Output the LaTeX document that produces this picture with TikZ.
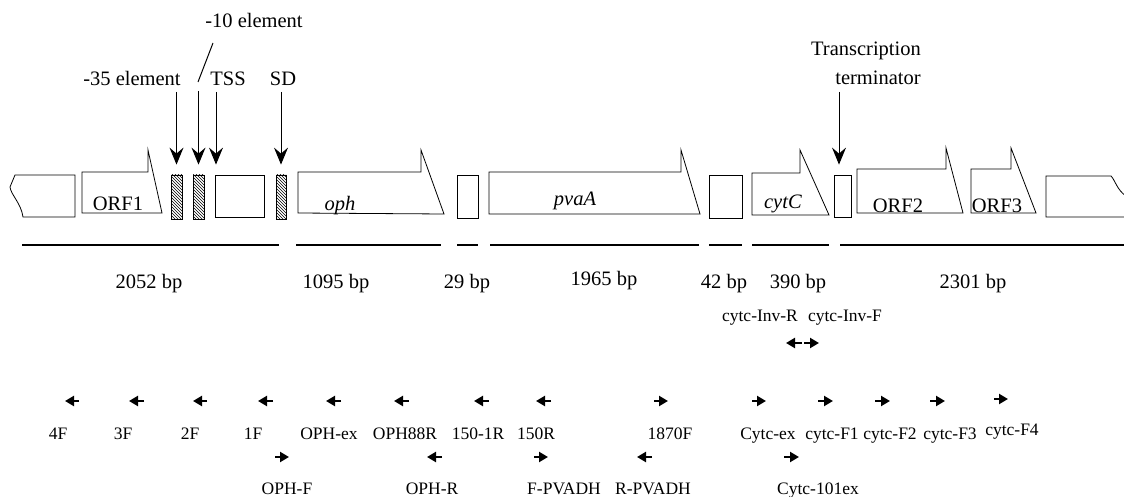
\documentclass[tikz,border=0pt]{standalone}
\usepackage{fontspec}
\setmainfont{Liberation Serif}
\usetikzlibrary{arrows.meta,patterns}
\begin{document}
\begin{tikzpicture}[x=1pt,y=-1pt,
  box/.style={draw,line width=0.8pt},
  rbox/.style={draw,line width=0.8pt,inner sep=0pt},
  hatch/.style={draw,line width=0.8pt,pattern=north west lines,inner sep=0pt,minimum width=11pt,minimum height=44pt},
  bar/.style={line width=2.6pt},
  bigarrow/.style={line width=1pt,-{Stealth[length=17pt,width=14pt,inset=6pt]}},
  primer/.style={line width=2.2pt,-{Triangle[length=9pt,width=10pt]}},
  lab/.style={font=\fontsize{20.5}{24}\selectfont,inner sep=0pt,anchor=base},
  plab/.style={font=\fontsize{17.5}{20}\selectfont,inner sep=0pt,anchor=base},
]
\useasboundingbox (0,0) rectangle (1124,497);

% ---- gene map ----
\draw[box] (75,175) -- (15,175) -- (10,187) .. controls (11,195) and (21,203) .. (23,217) -- (75,217) -- cycle;
\draw[box] (82,213) -- (82,172) -- (148,172) -- (148,150) -- (162,213) -- cycle;
\node[lab] (orf1) at (118,211) {ORF1};

\node[hatch] (m35) at (176.5,197) {};
\node[hatch] (m10) at (198.5,197) {};
\node[rbox,minimum width=49pt,minimum height=42pt] (tss) at (239.5,196) {};
\node[hatch,minimum width=10pt] (sd) at (281,197) {};

\draw[box] (298,213) -- (298,172) -- (421,172) -- (421,150) -- (444,214) -- cycle;
\node[lab] (oph) at (340,211) {\textit{oph}};

\node[rbox,minimum width=21pt,minimum height=43pt] (b29) at (467.5,196.5) {};

\draw[box] (489,214) -- (489,172) -- (681,172) -- (681,150) -- (700,214) -- cycle;
\node[lab] (pvaA) at (575,206) {\textit{pvaA}};

\node[rbox,minimum width=33pt,minimum height=43pt] (b42) at (725.5,196.5) {};

\draw[box] (752,215) -- (752,173) -- (800,173) -- (800,150) -- (829,215) -- cycle;
\node[lab] (cytC) at (783,208) {\textit{cytC}};

\node[rbox,minimum width=17pt,minimum height=42pt] (term) at (842.5,196) {};

\draw[box] (857,213) -- (857,169) -- (946,169) -- (946,148) -- (963,213) -- cycle;
\node[lab] (orf2) at (898,212) {ORF2};
\draw[box] (971,213) -- (971,169) -- (1011,169) -- (1011,148) -- (1036,213) -- cycle;
\node[lab] (orf3) at (997,212) {ORF3};

\draw[box] (1126,217) -- (1046,217) -- (1046,176) -- (1111,176) .. controls (1115,180) and (1117,190) .. (1126,196);

% ---- element labels and arrows ----
\node[lab] (t35) at (132,86) {-35 element};
\node[lab] (t10) at (254,28) {-10 element};
\node[lab] (ttss) at (228,86) {TSS};
\node[lab] (tsd) at (283,86) {SD};
\node[lab] (ttr1) at (866,56) {Transcription};
\node[lab] (ttr2) at (878,85) {terminator};

\coordinate (a35) at (176.5,92);
\coordinate (a10) at (198.5,91);
\coordinate (atss) at (216,92);
\coordinate (asd) at (281,92);
\coordinate (atr) at (839,92);
\coordinate (l10a) at (198,82);
\coordinate (l10b) at (213,43);
\draw[line width=1pt] (l10a) -- (l10b);
\draw[bigarrow,shorten >=10pt] (a35) -- (m35.north);
\draw[bigarrow,shorten >=10pt] (a10) -- (m10.north);
\draw[bigarrow,shorten >=10pt] (atss) -- (atss |- tss.north);
\draw[bigarrow,shorten >=10pt] (asd) -- (sd.north);
\draw[bigarrow,shorten >=10pt] (atr) -- (atr |- term.north);

% ---- length bars ----
\foreach \a/\b/\lx/\ly/\s [count=\n] in {22/279/149/288/2052 bp, 296/441/336/288/1095 bp, 457/478/467/288/29 bp, 490/699/604/285/1965 bp, 709/742/724/288/42 bp, 752/829/798/288/390 bp, 840/1126/973/288/2301 bp}{
  \coordinate (bs\n) at (\a,245);
  \coordinate (be\n) at (\b,245);
  \draw[bar] (bs\n) -- (be\n);
  \node[lab] (bl\n) at (\lx,\ly) {\s};
}

% ---- primers ----
\foreach \t/\h/\y/\lx/\ly/\s [count=\n] in {
  79/65/401/58/439/4F, 144/129/401/123/439/3F, 207/193/401/190/439/2F,
  273/258/401/253/439/1F, 341/326/401/329/439/OPH-ex, 409/394/401/405/439/OPH88R,
  489/474/401/478/439/150-1R, 551/536/401/536/439/150R, 654/668/401/670/439/1870F,
  752/766/401/768/439/Cytc-ex, 818/833/401/832/439/cytc-F1, 875/890/401/890/439/cytc-F2,
  930/945/401/950/439/cytc-F3, 994/1008/399/1012/435/cytc-F4,
  275/289/457/287/494/OPH-F, 442/427/457/432/494/OPH-R, 534/548/457/564/494/F-PVADH,
  652/637/457/653/494/R-PVADH, 784/799/457/818/494/Cytc-101ex,
  802/786/343/760/321/cytc-Inv-R, 804/819/343/845/321/cytc-Inv-F}{
  \coordinate (pt\n) at (\t,\y);
  \coordinate (ph\n) at (\h,\y);
  \draw[primer] (pt\n) -- (ph\n);
  \node[plab] (pl\n) at (\lx,\ly) {\s};
}
\end{tikzpicture}
\end{document}
